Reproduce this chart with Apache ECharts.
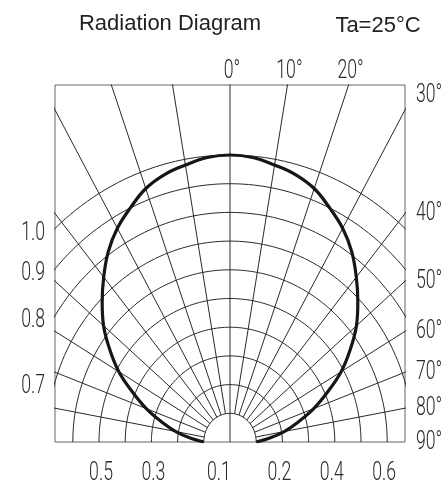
<!DOCTYPE html>
<html><head><meta charset="utf-8">
<script src="https://cdn.jsdelivr.net/npm/echarts@6/dist/echarts.min.js"></script>
<style>html,body{margin:0;padding:0;background:#fff}#c{width:446px;height:482px}</style>
</head><body><div id="c"></div>
<script>
// ---- data ----
const angles    = [0, 5, 10, 15, 20, 25, 30, 35, 40, 45, 50, 55, 60, 65, 70, 75, 80, 85, 90];
const intensity = [1.00, 0.995, 0.98, 0.965, 0.94, 0.90, 0.86, 0.81, 0.75, 0.69, 0.63, 0.56, 0.49, 0.41, 0.34, 0.27, 0.21, 0.15, 0.10];
const rings     = [0.1, 0.2, 0.3, 0.4, 0.5, 0.6, 0.7, 0.8, 0.9, 1.0];
const spokes    = [-80, -70, -60, -50, -40, -30, -20, -10, 0, 10, 20, 30, 40, 50, 60, 70, 80];
const topTicks    = [0, 10, 20];
const rightTicks  = [30, 40, 50, 60, 70, 80, 90];
const leftTicks   = [1.0, 0.9, 0.8, 0.7];
const bottomTicks = [-0.5, -0.3, -0.05, 0.2, 0.4, 0.6];
const bottomText  = ['0.5', '0.3', '0.1', '0.2', '0.4', '0.6'];
const titleText = 'Radiation Diagram';
const condText  = 'Ta=25°C';

(function () {
const XMAX = 0.668, YMAX = 1.244;
const rad = d => d * Math.PI / 180;

const series = [];
rings.forEach(r => {
  const pts = [];
  for (let p = 0; p <= 180; p += 1.5) pts.push([r * Math.cos(rad(p)), r * Math.sin(rad(p))]);
  series.push({type: 'line', data: pts, showSymbol: false, silent: true, clip: true,
    lineStyle: {color: '#2a2a2a', width: 1}, z: 2});
});
spokes.forEach(a => {
  const r0 = a === 0 ? 0 : 0.1;
  series.push({type: 'line', showSymbol: false, silent: true, clip: true,
    data: [[r0 * Math.sin(rad(a)), r0 * Math.cos(rad(a))], [2 * Math.sin(rad(a)), 2 * Math.cos(rad(a))]],
    lineStyle: {color: '#2a2a2a', width: 1}, z: 2});
});
const curve = [];
for (let i = angles.length - 1; i >= 0; i--) curve.push([-intensity[i] * Math.sin(rad(angles[i])), intensity[i] * Math.cos(rad(angles[i]))]);
for (let i = 1; i < angles.length; i++) curve.push([intensity[i] * Math.sin(rad(angles[i])), intensity[i] * Math.cos(rad(angles[i]))]);
series.push({type: 'line', data: curve, showSymbol: false, smooth: 0.4, clip: true,
  lineStyle: {color: '#161616', width: 3.2}, z: 5});

const chart = echarts.init(document.getElementById('c'));
chart.setOption({
  animation: false,
  backgroundColor: '#fff',
  grid: {left: 55, right: 41, top: 85, bottom: 40, show: true, borderColor: '#666', borderWidth: 1, backgroundColor: 'transparent'},
  xAxis: {type: 'value', min: -XMAX, max: XMAX, show: false},
  yAxis: {type: 'value', min: 0, max: YMAX, show: false},
  series
});

const px = (x, y) => chart.convertToPixel({gridIndex: 0}, [x, y]);
const tickFont = {fontFamily: 'Roboto', fontWeight: 300, fontSize: 26, fill: '#2a2a2a'};
const g = [];
function txt(text, x, y, align, font, sx) {
  g.push({type: 'text', x: x, y: y, scaleX: sx, silent: true,
    style: Object.assign({text: text, textAlign: align, textVerticalAlign: 'middle'}, font)});
}
const gTop = px(0, YMAX)[1], gRight = px(XMAX, 0)[0], gLeft = px(-XMAX, 0)[0], gBottom = px(0, 0)[1];
topTicks.forEach(a => {
  const p = px(YMAX * Math.tan(rad(a)), YMAX);
  txt(a + '°', p[0] + 2, gTop - 14, 'center', tickFont, 0.68);
});
rightTicks.forEach((a, i) => {
  const yv = a === 90 ? 0 : XMAX / Math.tan(rad(a));
  let y = px(XMAX, yv)[1];
  if (i === 0) y = gTop + 10;
  txt(a + '°', gRight + 11, y, 'left', tickFont, 0.68);
});
leftTicks.forEach(r => {
  const y = px(-XMAX, Math.sqrt(r * r - XMAX * XMAX))[1] + 5;
  txt(r.toFixed(1), gLeft - 10, y, 'right', tickFont, 0.68);
});
bottomTicks.forEach((v, i) => {
  const p = px(v, 0);
  txt(bottomText[i], p[0] + (v < 0 ? 2 : -3), gBottom + 31, 'center', tickFont, 0.68);
});
const titleFont = {fontFamily: 'Liberation Sans, Arial, sans-serif', fontSize: 22, fill: '#222'};
txt(titleText, 170, 24, 'center', titleFont, 1);
txt(condText, 378, 26, 'center', titleFont, 1);
chart.setOption({graphic: g});
})();
</script></body></html>
